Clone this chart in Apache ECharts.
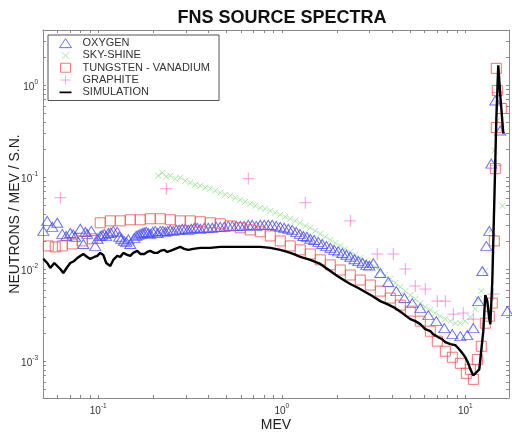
<!DOCTYPE html>
<html>
<head>
<meta charset="utf-8">
<script src="https://cdn.jsdelivr.net/npm/echarts@6/dist/echarts.min.js"></script>
<style>
html,body{margin:0;padding:0;background:#fff;}
#chart{width:512px;height:435px;}
</style>
</head>
<body>
<div id="chart"></div>
<script>
// Simulated FNS source spectrum (MeV, neutrons / MeV / S.N.)
const simEnergy = [0.0502,0.0527,0.0548,0.0576,0.0598,0.0621,0.0645,0.0678,0.0704,0.0740,0.0769,0.0798,0.0829,0.0871,0.0904,0.0951,0.0988,0.1025,0.1065,0.1105,0.1163,0.1207,0.1269,0.1318,0.1368,0.1439,0.1494,0.1551,0.1632,0.1694,0.1781,0.1849,0.1920,0.2019,0.2097,0.2178,0.2289,0.2377,0.2469,0.2628,0.2798,0.2942,0.3094,0.3294,0.3596,0.4077,0.4623,0.5441,0.6326,0.7634,0.8656,0.9813,1.0715,1.155,1.261,1.430,1.621,1.838,2.007,2.218,2.362,2.612,2.851,3.113,3.442,3.758,4.155,4.536,5.015,5.340,5.685,6.053,6.446,6.693,7.128,7.494,7.780,8.286,8.820,9.160,9.632,10.00,10.38,10.65,11.06,11.48,11.92,12.22,12.53,12.85,13.18,13.51,13.69,14.03,14.39,14.75,15.12,15.51,16.11];
const simValue = [0.0130,0.01174,0.01036,0.01174,0.01089,0.0101,0.00913,0.01062,0.01174,0.01235,0.0133,0.0140,0.01472,0.01365,0.0130,0.01365,0.0140,0.0151,0.01436,0.01174,0.01089,0.01266,0.0140,0.01365,0.0151,0.01436,0.0140,0.0151,0.01588,0.01472,0.01472,0.01548,0.01588,0.0151,0.0151,0.01588,0.01628,0.01548,0.01588,0.0167,0.01755,0.0167,0.01628,0.0167,0.01712,0.01712,0.01755,0.01755,0.01755,0.01755,0.01712,0.01628,0.01548,0.01472,0.01365,0.01266,0.01145,0.0096,0.00847,0.00747,0.00693,0.00627,0.00567,0.00513,0.00452,0.00419,0.00379,0.00335,0.00288,0.00274,0.00254,0.00224,0.00213,0.00197,0.00183,0.00174,0.00162,0.00154,0.0015,0.00139,0.00123,0.00111,0.000953,0.00082,0.000705,0.00076,0.00082,0.000862,0.00213,0.00526,0.00452,0.00288,0.00254,0.00747,0.0557,0.415,1.652,0.778,0.2996];

// Oxygen measurement
const oxyEnergy = [0.0502,0.0527,0.0562,0.0598,0.0637,0.0669,0.0704,0.0749,0.0798,0.0829,0.0871,0.0916,0.0963,0.1025,0.1079,0.1134,0.1207,0.1269,0.1335,0.1421,0.1494,0.1571,0.1652,0.1737,0.1826,0.1920,0.2045,0.2178,0.2318,0.2469,0.2661,0.2870,0.3094,0.3336,0.3596,0.3977,0.4395,0.4862,0.5373,0.5939,0.6568,0.7261,0.8028,0.8876,0.9813,1.085,1.199,1.310,1.430,1.581,1.748,1.932,2.137,2.362,2.612,2.887,3.152,3.442,3.805,4.207,4.653,5.143,5.685,6.287,6.950,7.684,8.496,9.394,10.25,11.06,11.77,12.38,13.01,13.51,13.86,14.57,15.51,16.94,
  0.0730,0.0850,0.0990,0.1050,0.1105,0.1170,0.1300,0.1380,0.1460,0.1610,0.1690,0.1780,0.1870,0.1980,0.2110,0.2250,0.2390,0.2560,0.2760,0.2980,0.3210,0.3460,0.3780,0.4180,0.4620,0.5110,0.5650,0.6240,0.6900,0.7640,0.8440,0.9330,1.030,1.140,1.255,1.370,1.500,1.660,1.840,2.030,2.250,2.490,2.750,3.000];
const oxyValue = [0.0262,0.0337,0.0290,0.0321,0.0243,0.0231,0.0249,0.0226,0.0276,0.0189,0.0243,0.0262,0.0180,0.0231,0.0243,0.0249,0.0262,0.0256,0.0215,0.0199,0.0189,0.0220,0.0237,0.0249,0.0256,0.0243,0.0262,0.0262,0.0256,0.0269,0.0269,0.0276,0.0269,0.0283,0.0276,0.0283,0.0290,0.0290,0.0297,0.0297,0.0305,0.0297,0.0305,0.0305,0.0290,0.0276,0.0256,0.0231,0.0215,0.0199,0.0180,0.0163,0.0151,0.0137,0.0123,0.0112,0.0117,0.00914,0.00729,0.00581,0.00488,0.00430,0.00379,0.00318,0.00274,0.00230,0.00198,0.00188,0.00193,0.00230,0.00452,0.00960,0.0180,0.0262,0.1411,0.686,0.323,0.00352,
  0.0240,0.0255,0.0215,0.0237,0.0230,0.0252,0.0226,0.0205,0.0212,0.0232,0.0243,0.0252,0.0249,0.0256,0.0249,0.0262,0.0262,0.0262,0.0269,0.0276,0.0276,0.0283,0.0283,0.0283,0.0290,0.0297,0.0297,0.0297,0.0305,0.0305,0.0305,0.0297,0.0283,0.0269,0.0243,0.0226,0.0209,0.0189,0.0172,0.0157,0.0144,0.0129,0.0118,0.0110];

// Sky-shine measurement
const skyEnergy = [0.2123,0.2233,0.2348,0.2469,0.2628,0.2798,0.2980,0.3173,0.3378,0.3596,0.3829,0.4077,0.4342,0.4623,0.4922,0.5240,0.5580,0.5939,0.6326,0.6735,0.7171,0.7634,0.8130,0.8656,0.9218,0.9813,1.045,1.112,1.185,1.261,1.343,1.430,1.522,1.621,1.726,1.838,1.957,2.084,2.218,2.362,2.515,2.678,2.851,3.036,3.232,3.442,3.664,3.902,4.155,4.424,4.710,5.015,5.340,5.685,6.053,6.446,6.863,7.307,7.780,8.286,8.820,9.394,10.00,10.65,11.34,11.77,12.22,12.85,13.69,14.39,14.94,15.91];
const skyValue = [0.1043,0.1125,0.1018,0.1043,0.0968,0.0992,0.0920,0.0876,0.0832,0.0812,0.0772,0.0753,0.0716,0.0681,0.0648,0.0632,0.0601,0.0571,0.0543,0.0516,0.0491,0.0467,0.0456,0.0433,0.0412,0.0392,0.0373,0.0355,0.0337,0.0321,0.0297,0.0283,0.0262,0.0243,0.0226,0.0209,0.0194,0.0180,0.0167,0.0155,0.01436,0.0133,0.0123,0.0115,0.0106,0.00960,0.00869,0.00786,0.00711,0.00643,0.00581,0.00526,0.00475,0.00430,0.00389,0.00361,0.00335,0.00310,0.00288,0.00274,0.00260,0.00260,0.00274,0.00303,0.00370,0.00475,0.00581,0.00960,0.0262,0.1955,0.415,0.0491];

// Tungsten - vanadium measurement
const twEnergy = [0.0534,0.0583,0.0637,0.0722,0.0818,0.0928,0.1025,0.1163,0.1318,0.1494,0.1694,0.1920,0.2178,0.2469,0.2798,0.3173,0.3596,0.4077,0.4623,0.5240,0.5939,0.6735,0.7634,0.8656,0.9813,1.112,1.261,1.430,1.621,1.838,2.084,2.362,2.678,3.036,3.442,3.902,4.424,5.015,5.685,6.446,7.036,7.780,8.496,9.394,10.13,10.65,11.06,11.63,12.22,12.85,13.51,14.03,14.39,14.57,14.75,14.94,14.75,15.71];
const twValue = [0.0180,0.01755,0.0180,0.0189,0.0204,0.0215,0.0321,0.0337,0.0337,0.0346,0.0346,0.0355,0.0355,0.0346,0.0337,0.0337,0.0329,0.0321,0.0313,0.0297,0.0283,0.0269,0.0256,0.0231,0.0204,0.0180,0.0163,0.0147,0.0127,0.0112,0.00985,0.00869,0.00766,0.00676,0.00581,0.00488,0.00409,0.00352,0.00274,0.00213,0.00166,0.00129,0.00111,0.000953,0.000742,0.00082,0.000638,0.00105,0.00146,0.00260,0.00310,0.00430,0.0204,0.1244,0.348,0.882,1.532,0.561];

// Graphite measurement
const grEnergy = [0.0621,0.2348,0.6568,1.343,2.362,3.314,4.052,4.710,5.340,6.053,7.036,7.780,8.603,9.752,11.06,14.21,14.75,14.94];
const grValue = [0.0601,0.0753,0.0968,0.0530,0.0337,0.0147,0.0147,0.0101,0.00659,0.00611,0.00452,0.00452,0.00326,0.00335,0.00288,0.00539,0.1341,0.839];

const seriesNames = ['OXYGEN', 'SKY-SHINE', 'TUNGSTEN - VANADIUM', 'GRAPHITE', 'SIMULATION'];

// Axis ranges and decade labels
const xRange = [0.05, 17.3];
const yRange = [0.0004, 4];
const xLabelTicks = [0.1, 1, 10];
const yLabelTicks = [0.001, 0.01, 0.1, 1];

// minor ticks at 1..9 x 10^n inside the range
function logTicks(range) {
  const out = [];
  for (let d = Math.floor(Math.log10(range[0])); d <= Math.ceil(Math.log10(range[1])); d++) {
    for (let m = 1; m <= 9; m++) {
      const v = m * Math.pow(10, d);
      if (v >= range[0] * 0.999 && v <= range[1] * 1.001) out.push(v);
    }
  }
  return out;
}
const xTicks = logTicks(xRange);
const yTicks = logTicks(yRange);

const pairs = (xs, ys) => xs.map((x, i) => [x, ys[i]]);

const FONT = '"Liberation Sans", Arial, sans-serif';
const AXIS_COLOR = '#8a8a8a';

const powLabel = {
  fontFamily: FONT,
  color: '#333',
  formatter: v => '{b|10}{s|' + Math.round(Math.log10(v)) + '}',
  rich: {
    b: { fontSize: 10, fontFamily: FONT, color: '#333', lineHeight: 13, verticalAlign: 'bottom' },
    s: { fontSize: 6.5, fontFamily: FONT, color: '#333', verticalAlign: 'top' }
  }
};

function logAxis(range, ticks, pos, labelTicks, extra) {
  return Object.assign({
    type: 'log',
    logBase: 10,
    position: pos,
    min: range[0],
    max: range[1],
    axisLine: { show: true, lineStyle: { color: AXIS_COLOR, width: 1 } },
    axisTick: { show: true, inside: true, length: 3, customValues: ticks, lineStyle: { color: AXIS_COLOR } },
    minorTick: { show: false },
    splitLine: { show: false },
    axisLabel: labelTicks
      ? Object.assign({ show: true, customValues: labelTicks, margin: 5 }, powLabel)
      : { show: false }
  }, extra || {});
}

const chart = echarts.init(document.getElementById('chart'), null, { renderer: 'canvas' });

const hollow = (c, w) => ({ color: 'rgba(0,0,0,0)', borderColor: c, borderWidth: w || 1 });

// legend glyphs; the tiny corner specks fix the icon's bounding box
const LEGEND_TRI = 'path://M6,0L12,9L0,9Z';
const LEGEND_X = 'path://M0,0L0.01,0.01M2,1L10,8M10,1L2,8M12,9L12.01,9.01';
const LEGEND_SQ = 'path://M0,0L0.01,0.01M1,0L11,0L11,9L1,9ZM12,9L12.01,9.01';
const LEGEND_PLUS = 'path://M0,0L0.01,0.01M6,0L6,9M1,4.5L11,4.5M12,9L12.01,9.01';
const LEGEND_LINE = 'path://M0,0L0.01,0L0.01,0.01ZM-2,3.5L14,3.5L14,5.7L-2,5.7ZM0,9L0.01,9L0.01,9.01Z';

chart.setOption({
  animation: false,
  backgroundColor: '#fff',
  title: {
    text: 'FNS SOURCE SPECTRA',
    left: 277,
    top: 4,
    textAlign: 'center',
    textStyle: { fontFamily: FONT, fontWeight: 'bold', fontSize: 18, color: '#111' }
  },
  grid: { left: 43, right: 3, top: 30, bottom: 37, containLabel: false, outerBoundsMode: 'none' },
  legend: {
    orient: 'vertical',
    left: 48,
    top: 35,
    padding: [2, 9, 2, 11],
    backgroundColor: '#fff',
    borderColor: '#555',
    borderWidth: 1,
    borderRadius: 0,
    itemWidth: 12,
    itemHeight: 9,
    itemGap: 0,
    selectedMode: false,
    textStyle: { fontFamily: FONT, fontSize: 11, color: '#333', lineHeight: 12.3, padding: [0, 0, 0, 6] },
    data: [
      { name: seriesNames[0], icon: LEGEND_TRI, itemStyle: hollow('#4a4aff') },
      { name: seriesNames[1], icon: LEGEND_X, itemStyle: hollow('#9be39b') },
      { name: seriesNames[2], icon: LEGEND_SQ, itemStyle: hollow('#f05a5a') },
      { name: seriesNames[3], icon: LEGEND_PLUS, itemStyle: hollow('#ff8ad8') },
      { name: seriesNames[4], icon: LEGEND_LINE, itemStyle: { color: '#000', borderWidth: 0 } }
    ]
  },
  xAxis: [
    logAxis(xRange, xTicks, 'bottom', xLabelTicks, {
      name: 'MEV', nameLocation: 'middle', nameGap: 20, nameMoveOverlap: false,
      nameTextStyle: { fontFamily: FONT, fontSize: 14, color: '#222' }
    }),
    logAxis(xRange, xTicks, 'top', null)
  ],
  yAxis: [
    logAxis(yRange, yTicks, 'left', yLabelTicks, {
      name: 'NEUTRONS / MEV / S.N.', nameLocation: 'middle', nameGap: 21, nameRotate: 90,
      nameMoveOverlap: false,
      nameTextStyle: { fontFamily: FONT, fontSize: 14, color: '#222' }
    }),
    logAxis(yRange, yTicks, 'right', null)
  ],
  series: [
    {
      name: seriesNames[0], type: 'scatter', xAxisIndex: 0, yAxisIndex: 0,
      symbol: 'triangle', symbolSize: [11, 9],
      itemStyle: hollow('#4a4aff'),
      data: pairs(oxyEnergy, oxyValue), z: 3
    },
    {
      name: seriesNames[1], type: 'scatter',
      symbol: 'path://M0,0L10,10M10,0L0,10', symbolSize: 6,
      itemStyle: hollow('#8fe08f'),
      data: pairs(skyEnergy, skyValue), z: 2
    },
    {
      name: seriesNames[2], type: 'scatter',
      symbol: 'rect', symbolSize: 10,
      itemStyle: hollow('#f05050'),
      data: pairs(twEnergy, twValue), z: 4
    },
    {
      name: seriesNames[3], type: 'scatter',
      symbol: 'path://M5,0L5,10M0,5L10,5', symbolSize: 12,
      itemStyle: hollow('#ff7fd0'),
      data: pairs(grEnergy, grValue), z: 2
    },
    {
      name: seriesNames[4], type: 'line',
      showSymbol: false, symbol: 'none',
      lineStyle: { color: '#000', width: 2.4 },
      itemStyle: { color: '#000' },
      data: pairs(simEnergy, simValue), z: 5
    }
  ]
});
</script>
</body>
</html>
